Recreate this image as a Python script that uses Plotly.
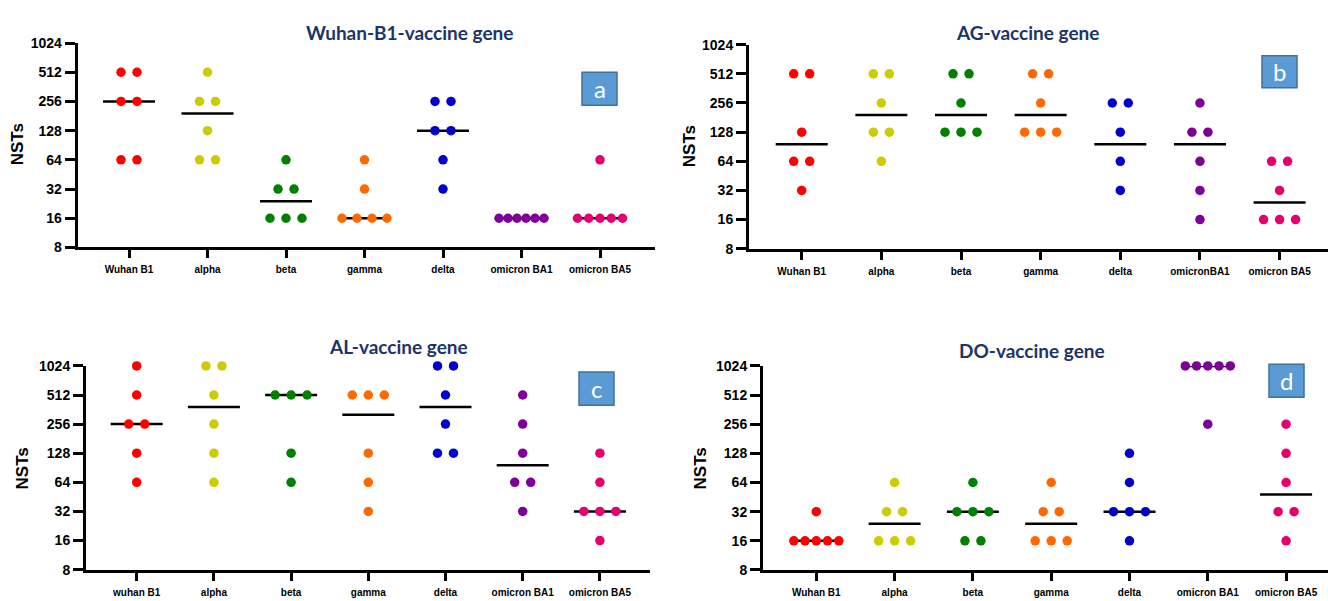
import numpy as np
import plotly.graph_objects as go

# ---- data: neutralising titres (NSTs) per variant, six animals per group ----
variants_a = ["Wuhan B1", "alpha", "beta", "gamma", "delta", "omicron BA1", "omicron BA5"]
variants_b = ["Wuhan B1", "alpha", "beta", "gamma", "delta", "omicronBA1", "omicron BA5"]
variants_c = ["wuhan B1", "alpha", "beta", "gamma", "delta", "omicron BA1", "omicron BA5"]
variants_d = ["Wuhan B1", "alpha", "beta", "gamma", "delta", "omicron BA1", "omicron BA5"]

wuhan_b1_gene = [
    [512, 512, 256, 256, 64, 64],
    [512, 256, 256, 128, 64, 64],
    [64, 32, 32, 16, 16, 16],
    [64, 32, 16, 16, 16, 16],
    [256, 256, 128, 128, 64, 32],
    [16, 16, 16, 16, 16, 16],
    [64, 16, 16, 16, 16, 16],
]
ag_gene = [
    [512, 512, 128, 64, 64, 32],
    [512, 512, 256, 128, 128, 64],
    [512, 512, 256, 128, 128, 128],
    [512, 512, 256, 128, 128, 128],
    [256, 256, 128, 64, 32, 8],
    [256, 128, 128, 64, 32, 16],
    [64, 64, 32, 16, 16, 16],
]
al_gene = [
    [1024, 512, 256, 256, 128, 64],
    [1024, 1024, 512, 256, 128, 64],
    [512, 512, 512, 128, 64],
    [512, 512, 512, 128, 64, 32],
    [1024, 1024, 512, 256, 128, 128],
    [512, 256, 128, 64, 64, 32],
    [128, 64, 32, 32, 32, 16],
]
do_gene = [
    [32, 16, 16, 16, 16, 16],
    [64, 32, 32, 16, 16, 16],
    [64, 32, 32, 32, 16, 16],
    [64, 32, 32, 16, 16, 16],
    [128, 64, 32, 32, 32, 16],
    [1024, 1024, 1024, 1024, 1024, 256],
    [256, 128, 64, 32, 32, 16],
]

panel_titles = ["Wuhan-B1-vaccine gene", "AG-vaccine gene", "AL-vaccine gene", "DO-vaccine gene"]
panel_letters = ["a", "b", "c", "d"]
y_ticks = [8, 16, 32, 64, 128, 256, 512, 1024]

colors = ["#FF0000", "#CCCC00", "#008000", "#FF6A00", "#0000CC", "#7F0099", "#E5006E"]

# ---- page geometry (pixels) ----
W, H = 1328, 601
# left, right, top, bottom of each plot area; centre of the first category; spacing between categories
panels = [
    dict(left=77.7, right=655, top=36, bottom=246, cat0=129, step=78.5,
         title_xy=(409, 25), ylab_xy=(17, 140), box=(582, 66, 617, 100)),
    dict(left=749, right=1328, top=37.7, bottom=247.3, cat0=801.7, step=79.65,
         title_xy=(1027, 25), ylab_xy=(689, 142), box=(1262, 49, 1297, 82)),
    dict(left=86, right=650, top=367.7, bottom=577, cat0=136.7, step=77.2,
         title_xy=(398, 348), ylab_xy=(22, 473), box=(579, 374, 614, 408)),
    dict(left=763, right=1328, top=367.7, bottom=577.3, cat0=816.3, step=78.3,
         title_xy=(1032, 352), ylab_xy=(700, 473), box=(1269, 366, 1304, 400)),
]
panel_data = [wuhan_b1_gene, ag_gene, al_gene, do_gene]
panel_cats = [variants_a, variants_b, variants_c, variants_d]

DOT_GAP = 16.0      # px between neighbouring tied dots
MAX_SPREAD = 45.0   # px, widest a row of tied dots may get
MEDIAN_HALF = 26.0  # px, half length of the median bar


def px_x(x):
    return x / W


def px_y(y):
    return 1 - y / H


def swarm_offsets(values):
    """Horizontal offsets (px) that spread tied values side by side."""
    vals = np.asarray(values)
    offs = np.zeros(len(vals))
    for v in np.unique(vals):
        idx = np.where(vals == v)[0]
        n = len(idx)
        if n > 1:
            gap = min(DOT_GAP, MAX_SPREAD / (n - 1))
            offs[idx] = (np.arange(n) - (n - 1) / 2) * gap
    return offs


fig = go.Figure()
annotations = []
shapes = []

for p, (geo, data, cats) in enumerate(zip(panels, panel_data, panel_cats)):
    xa = "x" if p == 0 else f"x{p + 1}"
    ya = "y" if p == 0 else f"y{p + 1}"
    step = geo["step"]

    for g, vals in enumerate(data):
        med = float(np.median(vals))
        half = MEDIAN_HALF / step
        fig.add_trace(go.Scatter(
            x=[g - half, g + half], y=[med, med], mode="lines",
            line=dict(color="black", width=2.5), xaxis=xa, yaxis=ya,
            showlegend=False, hoverinfo="skip", cliponaxis=False))
        offs = swarm_offsets(vals) / step
        fig.add_trace(go.Scatter(
            x=g + offs, y=vals, mode="markers",
            marker=dict(color=colors[g], size=9.5, line=dict(width=0)),
            xaxis=xa, yaxis=ya, showlegend=False, cliponaxis=False,
            name=cats[g]))

    xr = [(geo["left"] - geo["cat0"]) / step, (geo["right"] - geo["cat0"]) / step]
    xkey = "xaxis" if p == 0 else f"xaxis{p + 1}"
    ykey = "yaxis" if p == 0 else f"yaxis{p + 1}"
    fig.layout[xkey] = dict(
        domain=[px_x(geo["left"]), px_x(geo["right"])],
        anchor=ya, range=xr, tickmode="array",
        tickvals=list(range(len(cats))), ticktext=cats,
        showline=True, linecolor="black", linewidth=3,
        ticks="outside", ticklen=8, tickwidth=3, tickcolor="black",
        showgrid=False, zeroline=False, ticklabelstandoff=3,
        tickfont=dict(family="Arial, Liberation Sans", size=10, color="black", weight="bold"),
    )
    fig.layout[ykey] = dict(
        domain=[px_y(geo["bottom"]), px_y(geo["top"])],
        anchor=xa, type="log", range=[np.log10(8), np.log10(1024)],
        tickmode="array", tickvals=y_ticks, ticktext=[str(t) for t in y_ticks],
        showline=True, linecolor="black", linewidth=3,
        ticks="outside", ticklen=10, tickwidth=3, tickcolor="black",
        showgrid=False, zeroline=False,
        tickfont=dict(family="Arial, Liberation Sans", size=14, color="black", weight="bold"),
    )

    tx, ty = geo["title_xy"]
    annotations.append(dict(
        text=panel_titles[p], x=px_x(tx), y=px_y(ty), xref="paper", yref="paper",
        xanchor="center", yanchor="middle", showarrow=False,
        font=dict(family="Lato", size=19, color="#1C3468", weight="bold")))

    lx, ly = geo["ylab_xy"]
    annotations.append(dict(
        text="NSTs", x=px_x(lx), y=px_y(ly), xref="paper", yref="paper",
        xanchor="center", yanchor="middle", showarrow=False, textangle=-90,
        font=dict(family="Arial, Liberation Sans", size=17, color="black", weight="bold")))

    bx0, by0, bx1, by1 = geo["box"]
    shapes.append(dict(
        type="rect", xref="paper", yref="paper",
        x0=px_x(bx0), x1=px_x(bx1), y0=px_y(by1), y1=px_y(by0),
        fillcolor="#5B9BD5", line=dict(color="#41719C", width=1.5)))
    annotations.append(dict(
        text=panel_letters[p], x=px_x((bx0 + bx1) / 2), y=px_y((by0 + by1) / 2),
        xref="paper", yref="paper", xanchor="center", yanchor="middle",
        showarrow=False, font=dict(family="Lato", size=24, color="white")))

fig.update_layout(
    width=W, height=H, margin=dict(l=0, r=0, t=0, b=0),
    paper_bgcolor="white", plot_bgcolor="white",
    annotations=annotations, shapes=shapes, showlegend=False,
)

fig.write_html("out.html", include_plotlyjs=True, full_html=True,
               config={"displayModeBar": False})
